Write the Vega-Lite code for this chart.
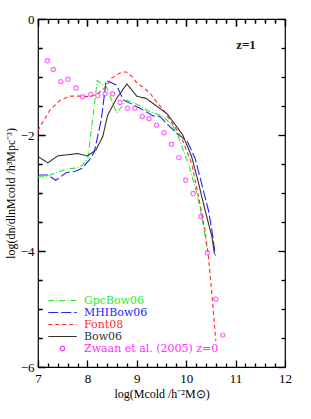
{
  "$schema": "https://vega.github.io/schema/vega-lite/v6.json",
  "width": 247,
  "height": 348,
  "autosize": {"type": "none"},
  "padding": {"left": 38, "top": 19, "right": 26, "bottom": 52},
  "background": "white",
  "config": {
    "view": {"stroke": "black", "strokeWidth": 1.2},
    "font": "Liberation Serif",
    "axis": {
      "grid": true,
      "gridColor": "black",
      "gridWidth": 1.3,
      "gridOpacity": 1,
      "domain": false,
      "ticks": true,
      "tickColor": "black",
      "tickWidth": 1.3,
      "tickSize": -7,
      "zindex": 1,
      "labelFont": "Liberation Serif",
      "labelFontSize": 13,
      "labelColor": "black",
      "titleFont": "Liberation Serif",
      "titleFontSize": 12,
      "titleFontWeight": "normal",
      "titleColor": "black"
    }
  },
  "datasets": {
    "curves": [
      {"series": "GpcBow06", "logM": 7.0, "logPhi": -2.72},
      {"series": "GpcBow06", "logM": 7.16, "logPhi": -2.72},
      {"series": "GpcBow06", "logM": 7.36, "logPhi": -2.65},
      {"series": "GpcBow06", "logM": 7.57, "logPhi": -2.59},
      {"series": "GpcBow06", "logM": 7.77, "logPhi": -2.57},
      {"series": "GpcBow06", "logM": 7.9, "logPhi": -2.52},
      {"series": "GpcBow06", "logM": 8.01, "logPhi": -2.4},
      {"series": "GpcBow06", "logM": 8.2, "logPhi": -1.06},
      {"series": "GpcBow06", "logM": 8.39, "logPhi": -1.18},
      {"series": "GpcBow06", "logM": 8.59, "logPhi": -1.62},
      {"series": "GpcBow06", "logM": 8.8, "logPhi": -1.4},
      {"series": "GpcBow06", "logM": 9.0, "logPhi": -1.47},
      {"series": "GpcBow06", "logM": 9.27, "logPhi": -1.6},
      {"series": "GpcBow06", "logM": 9.54, "logPhi": -1.68},
      {"series": "GpcBow06", "logM": 9.74, "logPhi": -1.86},
      {"series": "GpcBow06", "logM": 9.84, "logPhi": -2.03},
      {"series": "GpcBow06", "logM": 10.04, "logPhi": -2.49},
      {"series": "GpcBow06", "logM": 10.18, "logPhi": -2.89},
      {"series": "GpcBow06", "logM": 10.28, "logPhi": -3.24},
      {"series": "GpcBow06", "logM": 10.35, "logPhi": -3.58},
      {"series": "GpcBow06", "logM": 10.42, "logPhi": -3.95},
      {"series": "MHIBow06", "logM": 7.0, "logPhi": -2.69},
      {"series": "MHIBow06", "logM": 7.2, "logPhi": -2.69},
      {"series": "MHIBow06", "logM": 7.36, "logPhi": -2.78},
      {"series": "MHIBow06", "logM": 7.57, "logPhi": -2.65},
      {"series": "MHIBow06", "logM": 7.77, "logPhi": -2.62},
      {"series": "MHIBow06", "logM": 7.9, "logPhi": -2.57},
      {"series": "MHIBow06", "logM": 8.04, "logPhi": -2.43},
      {"series": "MHIBow06", "logM": 8.14, "logPhi": -2.29},
      {"series": "MHIBow06", "logM": 8.28, "logPhi": -1.74},
      {"series": "MHIBow06", "logM": 8.38, "logPhi": -1.06},
      {"series": "MHIBow06", "logM": 8.59, "logPhi": -1.14},
      {"series": "MHIBow06", "logM": 8.73, "logPhi": -1.4},
      {"series": "MHIBow06", "logM": 8.93, "logPhi": -1.48},
      {"series": "MHIBow06", "logM": 9.13, "logPhi": -1.57},
      {"series": "MHIBow06", "logM": 9.33, "logPhi": -1.67},
      {"series": "MHIBow06", "logM": 9.47, "logPhi": -1.68},
      {"series": "MHIBow06", "logM": 9.6, "logPhi": -1.8},
      {"series": "MHIBow06", "logM": 9.81, "logPhi": -1.97},
      {"series": "MHIBow06", "logM": 10.02, "logPhi": -2.11},
      {"series": "MHIBow06", "logM": 10.18, "logPhi": -2.4},
      {"series": "MHIBow06", "logM": 10.31, "logPhi": -2.83},
      {"series": "MHIBow06", "logM": 10.45, "logPhi": -3.3},
      {"series": "MHIBow06", "logM": 10.52, "logPhi": -3.64},
      {"series": "MHIBow06", "logM": 10.59, "logPhi": -4.08},
      {"series": "Font08", "logM": 7.0, "logPhi": -1.93},
      {"series": "Font08", "logM": 7.04, "logPhi": -1.86},
      {"series": "Font08", "logM": 7.24, "logPhi": -1.57},
      {"series": "Font08", "logM": 7.45, "logPhi": -1.4},
      {"series": "Font08", "logM": 7.65, "logPhi": -1.33},
      {"series": "Font08", "logM": 7.85, "logPhi": -1.33},
      {"series": "Font08", "logM": 8.05, "logPhi": -1.34},
      {"series": "Font08", "logM": 8.22, "logPhi": -1.28},
      {"series": "Font08", "logM": 8.36, "logPhi": -1.18},
      {"series": "Font08", "logM": 8.49, "logPhi": -1.02},
      {"series": "Font08", "logM": 8.66, "logPhi": -0.93},
      {"series": "Font08", "logM": 8.78, "logPhi": -0.91},
      {"series": "Font08", "logM": 8.9, "logPhi": -0.99},
      {"series": "Font08", "logM": 9.0, "logPhi": -1.1},
      {"series": "Font08", "logM": 9.13, "logPhi": -1.18},
      {"series": "Font08", "logM": 9.27, "logPhi": -1.28},
      {"series": "Font08", "logM": 9.4, "logPhi": -1.43},
      {"series": "Font08", "logM": 9.54, "logPhi": -1.57},
      {"series": "Font08", "logM": 9.67, "logPhi": -1.74},
      {"series": "Font08", "logM": 9.81, "logPhi": -1.91},
      {"series": "Font08", "logM": 9.94, "logPhi": -2.12},
      {"series": "Font08", "logM": 10.11, "logPhi": -2.49},
      {"series": "Font08", "logM": 10.25, "logPhi": -3.06},
      {"series": "Font08", "logM": 10.38, "logPhi": -3.64},
      {"series": "Font08", "logM": 10.45, "logPhi": -4.1},
      {"series": "Font08", "logM": 10.52, "logPhi": -4.73},
      {"series": "Font08", "logM": 10.6, "logPhi": -5.55},
      {"series": "Bow06", "logM": 7.0, "logPhi": -2.37},
      {"series": "Bow06", "logM": 7.2, "logPhi": -2.48},
      {"series": "Bow06", "logM": 7.4, "logPhi": -2.36},
      {"series": "Bow06", "logM": 7.6, "logPhi": -2.34},
      {"series": "Bow06", "logM": 7.8, "logPhi": -2.32},
      {"series": "Bow06", "logM": 8.0, "logPhi": -2.36},
      {"series": "Bow06", "logM": 8.17, "logPhi": -2.26},
      {"series": "Bow06", "logM": 8.31, "logPhi": -2.03},
      {"series": "Bow06", "logM": 8.41, "logPhi": -1.66},
      {"series": "Bow06", "logM": 8.59, "logPhi": -1.37},
      {"series": "Bow06", "logM": 8.8, "logPhi": -1.12},
      {"series": "Bow06", "logM": 9.0, "logPhi": -1.33},
      {"series": "Bow06", "logM": 9.19, "logPhi": -1.37},
      {"series": "Bow06", "logM": 9.4, "logPhi": -1.5},
      {"series": "Bow06", "logM": 9.61, "logPhi": -1.63},
      {"series": "Bow06", "logM": 9.81, "logPhi": -1.86},
      {"series": "Bow06", "logM": 9.93, "logPhi": -2.0},
      {"series": "Bow06", "logM": 10.11, "logPhi": -2.37},
      {"series": "Bow06", "logM": 10.25, "logPhi": -2.83},
      {"series": "Bow06", "logM": 10.38, "logPhi": -3.29},
      {"series": "Bow06", "logM": 10.52, "logPhi": -3.75},
      {"series": "Bow06", "logM": 10.57, "logPhi": -4.05}
    ],
    "zwaan": [
      {"series": "Zwaan et al. (2005) z=0", "logM": 7.19, "logPhi": -0.72},
      {"series": "Zwaan et al. (2005) z=0", "logM": 7.31, "logPhi": -0.87},
      {"series": "Zwaan et al. (2005) z=0", "logM": 7.46, "logPhi": -1.08},
      {"series": "Zwaan et al. (2005) z=0", "logM": 7.61, "logPhi": -1.04},
      {"series": "Zwaan et al. (2005) z=0", "logM": 7.77, "logPhi": -1.19},
      {"series": "Zwaan et al. (2005) z=0", "logM": 7.9, "logPhi": -1.34},
      {"series": "Zwaan et al. (2005) z=0", "logM": 8.07, "logPhi": -1.3},
      {"series": "Zwaan et al. (2005) z=0", "logM": 8.21, "logPhi": -1.32},
      {"series": "Zwaan et al. (2005) z=0", "logM": 8.36, "logPhi": -1.29},
      {"series": "Zwaan et al. (2005) z=0", "logM": 8.51, "logPhi": -1.29},
      {"series": "Zwaan et al. (2005) z=0", "logM": 8.66, "logPhi": -1.44},
      {"series": "Zwaan et al. (2005) z=0", "logM": 8.81, "logPhi": -1.54},
      {"series": "Zwaan et al. (2005) z=0", "logM": 8.96, "logPhi": -1.54},
      {"series": "Zwaan et al. (2005) z=0", "logM": 9.11, "logPhi": -1.68},
      {"series": "Zwaan et al. (2005) z=0", "logM": 9.25, "logPhi": -1.72},
      {"series": "Zwaan et al. (2005) z=0", "logM": 9.4, "logPhi": -1.83},
      {"series": "Zwaan et al. (2005) z=0", "logM": 9.55, "logPhi": -1.96},
      {"series": "Zwaan et al. (2005) z=0", "logM": 9.7, "logPhi": -2.16},
      {"series": "Zwaan et al. (2005) z=0", "logM": 9.85, "logPhi": -2.39},
      {"series": "Zwaan et al. (2005) z=0", "logM": 9.99, "logPhi": -2.78},
      {"series": "Zwaan et al. (2005) z=0", "logM": 10.14, "logPhi": -3.01},
      {"series": "Zwaan et al. (2005) z=0", "logM": 10.3, "logPhi": -3.41},
      {"series": "Zwaan et al. (2005) z=0", "logM": 10.43, "logPhi": -4.03},
      {"series": "Zwaan et al. (2005) z=0", "logM": 10.6, "logPhi": -4.83},
      {"series": "Zwaan et al. (2005) z=0", "logM": 10.74, "logPhi": -5.45}
    ]
  },
  "layer": [
    {
      "data": {"name": "curves"},
      "mark": {"type": "line", "strokeWidth": 1.1},
      "encoding": {
        "x": {
          "field": "logM", "type": "quantitative",
          "scale": {"domain": [7, 12], "nice": false, "zero": false},
          "axis": {
            "orient": "bottom",
            "values": [7, 7.2, 7.4, 7.6, 7.8, 8, 8.2, 8.4, 8.6, 8.8, 9, 9.2, 9.4, 9.6, 9.8, 10, 10.2, 10.4, 10.6, 10.8, 11, 11.2, 11.4, 11.6, 11.8, 12],
            "labelExpr": "abs(datum.value - round(datum.value)) < 0.01 ? format(datum.value, 'd') : ''",
            "gridDash": {"condition": {"test": "abs(datum.value - round(datum.value)) < 0.01", "value": [7, 1000]}, "value": [4, 1000]},
            "tickDash": {"condition": {"test": "abs(datum.value - round(datum.value)) < 0.01", "value": [7, 100]}, "value": [4, 100]},
            "labelPadding": 12,
            "labelFlush": false,
            "labelOverlap": false,
            "title": "log(Mcold /h⁻²M⊙)",
            "titlePadding": 3
          }
        },
        "y": {
          "field": "logPhi", "type": "quantitative",
          "scale": {"domain": [-6, 0], "nice": false, "zero": false},
          "axis": {
            "orient": "left",
            "values": [-6, -5.5, -5, -4.5, -4, -3.5, -3, -2.5, -2, -1.5, -1, -0.5, 0],
            "labelExpr": "abs(datum.value / 2 - round(datum.value / 2)) < 0.01 ? format(datum.value, 'd') : ''",
            "gridDash": {"condition": {"test": "abs(datum.value / 2 - round(datum.value / 2)) < 0.01", "value": [7, 1000]}, "value": [4, 1000]},
            "tickDash": {"condition": {"test": "abs(datum.value / 2 - round(datum.value / 2)) < 0.01", "value": [7, 100]}, "value": [4, 100]},
            "labelPadding": 11,
            "labelFlush": false,
            "labelOverlap": false,
            "title": "log(dn/dlnMcold /h³Mpc⁻³)",
            "titlePadding": 3
          }
        },
        "color": {
          "field": "series", "type": "nominal",
          "scale": {
            "domain": ["GpcBow06", "MHIBow06", "Font08", "Bow06", "Zwaan et al. (2005) z=0"],
            "range": ["#2ee82e", "#2323ff", "#ff2b2b", "#333333", "#ff2bff"]
          },
          "legend": {
            "orient": "none",
            "legendX": 9,
            "legendY": 275,
            "title": null,
            "labelFont": "DejaVu Serif",
            "labelFontSize": 11,
            "symbolType": "stroke",
            "symbolSize": 120,
            "symbolStrokeWidth": 1.2,
            "symbolOffset": 9,
            "labelOffset": 15,
            "rowPadding": 0,
            "padding": 0,
            "encode": {
              "symbols": {"update": {
                "shape": {"signal": "datum.value === 'Zwaan et al. (2005) z=0' ? 'M0.42,0A0.42,0.42,0,1,1,-0.42,0A0.42,0.42,0,1,1,0.42,0Z' : 'M-2.6,0H2.6'"}
              }},
              "labels": {"update": {"fill": {"signal": "scale('color', datum.value)"}}}
            }
          }
        },
        "strokeDash": {
          "field": "series", "type": "nominal",
          "scale": {
            "domain": ["GpcBow06", "MHIBow06", "Font08", "Bow06", "Zwaan et al. (2005) z=0"],
            "range": [[6, 2, 1, 2], [10, 3], [4, 3], [1, 0], [1, 0]]
          },
          "legend": {
            "orient": "none",
            "legendX": 9,
            "legendY": 275,
            "title": null,
            "labelFont": "DejaVu Serif",
            "labelFontSize": 11,
            "symbolType": "stroke",
            "symbolSize": 120,
            "symbolStrokeWidth": 1.2,
            "symbolOffset": 9,
            "labelOffset": 15,
            "rowPadding": 0,
            "padding": 0
          }
        }
      }
    },
    {
      "data": {"name": "zwaan"},
      "mark": {"type": "point", "shape": "circle", "filled": false, "size": 18, "strokeWidth": 1.2},
      "encoding": {
        "x": {
          "field": "logM", "type": "quantitative",
          "axis": {
            "orient": "top",
            "values": [7, 7.2, 7.4, 7.6, 7.8, 8, 8.2, 8.4, 8.6, 8.8, 9, 9.2, 9.4, 9.6, 9.8, 10, 10.2, 10.4, 10.6, 10.8, 11, 11.2, 11.4, 11.6, 11.8, 12],
            "labels": false,
            "title": null,
            "gridDash": {"condition": {"test": "abs(datum.value - round(datum.value)) < 0.01", "value": [7, 1000]}, "value": [4, 1000]},
            "tickDash": {"condition": {"test": "abs(datum.value - round(datum.value)) < 0.01", "value": [7, 100]}, "value": [4, 100]}
          }
        },
        "y": {
          "field": "logPhi", "type": "quantitative",
          "axis": {
            "orient": "right",
            "values": [-6, -5.5, -5, -4.5, -4, -3.5, -3, -2.5, -2, -1.5, -1, -0.5, 0],
            "labels": false,
            "title": null,
            "gridDash": {"condition": {"test": "abs(datum.value / 2 - round(datum.value / 2)) < 0.01", "value": [7, 1000]}, "value": [4, 1000]},
            "tickDash": {"condition": {"test": "abs(datum.value / 2 - round(datum.value / 2)) < 0.01", "value": [7, 100]}, "value": [4, 100]}
          }
        },
        "color": {"field": "series", "type": "nominal", "legend": null}
      }
    },
    {
      "data": {"values": [{"label": "z=1"}]},
      "mark": {"type": "text", "font": "Liberation Serif", "fontSize": 13, "fontWeight": "bold", "color": "#222222"},
      "encoding": {
        "x": {"datum": 11.21, "type": "quantitative", "axis": null},
        "y": {"datum": -0.45, "type": "quantitative", "axis": null},
        "text": {"field": "label"}
      }
    }
  ],
  "resolve": {"axis": {"x": "independent", "y": "independent"}}
}
